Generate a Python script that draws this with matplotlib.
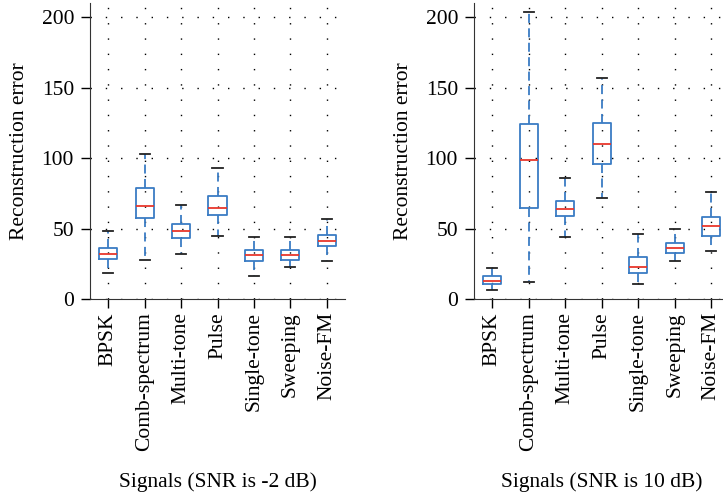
import matplotlib.pyplot as plt
import numpy as np

signals = ["BPSK", "Comb-spectrum", "Multi-tone", "Pulse", "Single-tone", "Sweeping", "Noise-FM"]

# SNR = -2 dB : lower whisker, Q1, median, Q3, upper whisker
snr_m2_low = [18.2, 27.9, 32.2, 44.8, 16.6, 23.0, 26.8]
snr_m2_q1 = [28.2, 57.8, 43.6, 59.7, 27.0, 27.9, 37.4]
snr_m2_med = [32.0, 66.3, 48.5, 64.4, 31.3, 31.5, 41.4]
snr_m2_q3 = [36.5, 78.6, 53.0, 73.4, 34.6, 35.0, 45.2]
snr_m2_high = [48.3, 102.8, 66.8, 93.3, 44.3, 44.0, 56.8]

# SNR = 10 dB
snr_10_low = [6.6, 12.3, 43.8, 71.5, 10.9, 27.3, 34.4]
snr_10_q1 = [10.9, 64.6, 58.7, 95.8, 18.5, 32.6, 44.7]
snr_10_med = [12.8, 99.0, 63.9, 110.3, 22.7, 36.2, 51.6]
snr_10_q3 = [16.0, 124.5, 69.8, 124.8, 29.8, 39.8, 58.5]
snr_10_high = [21.8, 204.0, 85.7, 157.0, 46.4, 49.5, 75.7]

plt.rcParams['font.family'] = ['Liberation Serif', 'DejaVu Serif']

blue = '#3a7cc4'
red = '#e8372c'
fs = 15.5


def zrob_statystyki(low, q1, med, q3, high):
    stats = []
    for i in range(len(low)):
        stats.append({"whislo": low[i], "q1": q1[i], "med": med[i],
                      "q3": q3[i], "whishi": high[i], "fliers": []})
    return stats


def rysuj_panel(ax, stats, xlabel):
    ax.bxp(stats, positions=np.arange(1, len(stats) + 1), widths=0.5,
           showfliers=False,
           boxprops=dict(color=blue, linewidth=1.3),
           medianprops=dict(color=red, linewidth=1.3),
           whiskerprops=dict(color=blue, linewidth=1.3, linestyle=(0, (5, 3))),
           capprops=dict(color='#222222', linewidth=1.3),
           capwidths=0.28)
    ax.set_xlim(0.5, 7.5)
    ax.set_ylim(0, 210)
    ax.set_yticks([0, 50, 100, 150, 200])
    ax.set_xticks(np.arange(1, 8))
    ax.set_xticklabels(signals, rotation=90, fontsize=fs)
    ax.tick_params(axis='y', labelsize=fs, direction='out', length=6.5, width=1, pad=5)
    ax.tick_params(axis='x', direction='out', length=6.5, width=1, pad=3)
    ax.spines['top'].set_visible(False)
    ax.spines['right'].set_visible(False)
    ax.spines['left'].set_color('#333333')
    ax.spines['bottom'].set_color('#333333')
    ax.grid(True, color='black', linestyle=(0, (1, 10)), linewidth=1.0)
    ax.set_axisbelow(True)
    ax.set_ylabel("Reconstruction error", fontsize=fs, labelpad=9)
    ax.set_xlabel(xlabel, fontsize=fs, labelpad=15)


fig = plt.figure(figsize=(7.23, 4.98), dpi=100)
ax1 = fig.add_axes([0.1245, 0.3996, 0.3527, 0.594])
ax2 = fig.add_axes([0.6556, 0.3996, 0.3534, 0.594])

rysuj_panel(ax1, zrob_statystyki(snr_m2_low, snr_m2_q1, snr_m2_med, snr_m2_q3, snr_m2_high),
            "Signals (SNR is -2 dB)")
rysuj_panel(ax2, zrob_statystyki(snr_10_low, snr_10_q1, snr_10_med, snr_10_q3, snr_10_high),
            "Signals (SNR is 10 dB)")

fig.savefig("out.png", dpi=100)
